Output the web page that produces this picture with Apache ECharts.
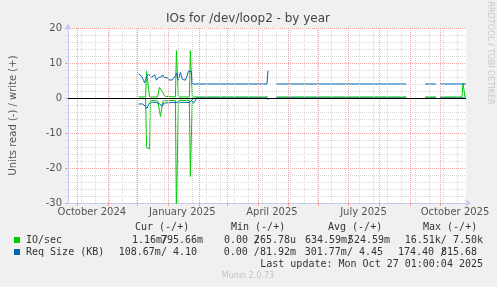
<!DOCTYPE html>
<html><head><meta charset="utf-8">
<script src="https://cdn.jsdelivr.net/npm/echarts@6/dist/echarts.min.js"></script>
<style>html,body{margin:0;padding:0;background:#f0f0f0}#c{width:497px;height:287px}</style>
</head><body><div id="c"></div>
<script>
// ---- data ----
const timeStart = '2024-09-22T01:00:00Z';
const timeEnd = '2025-10-27T01:00:00Z';
const xLabelDates = ['2024-10-16','2025-01-15','2025-04-15','2025-07-16','2025-10-16'];
const xLabelTexts = ['October 2024','January 2025','April 2025','July 2025','October 2025'];
const monthStarts = ['2024-10-01','2024-11-01','2024-12-01','2025-01-01','2025-02-01','2025-03-01','2025-04-01','2025-05-01','2025-06-01','2025-07-01','2025-08-01','2025-09-01','2025-10-01'];
const yTickLabels = [-30,-20,-10,0,10,20];

// IO/sec write (+)
const ioWrite = [['2024-12-02',0.3],['2024-12-09',0.3],['2024-12-10',7.6],['2024-12-11',7.6],['2024-12-12',7.6],['2024-12-13',0.3],
 ['2024-12-21',0.3],['2024-12-22',0.8],['2024-12-23',3.0],['2024-12-24',3.3],['2024-12-25',2.6],['2024-12-26',1.8],['2024-12-27',1.2],['2024-12-28',0.5],['2024-12-29',0.3],
 ['2025-01-08',0.3],['2025-01-09',13.5],['2025-01-10',13.5],['2025-01-11',0.3],['2025-01-22',0.3],['2025-01-23',13.5],['2025-01-24',13.5],['2025-01-25',0.3],
 ['2025-04-11',0.3],['2025-04-12',null],['2025-04-19',0.3],['2025-08-28',0.3],['2025-08-29',null],['2025-09-16',0.3],['2025-09-27',0.3],['2025-09-28',null],
 ['2025-10-01',0.3],['2025-10-23',0.3],['2025-10-24',4.3],['2025-10-25',4.3],['2025-10-26',0.3],['2025-10-27',0.3]];
// IO/sec read (-)
const ioRead = [['2024-12-02',-0.1],['2024-12-09',-0.1],['2024-12-10',-14.2],['2024-12-11',-14.3],['2024-12-12',-14.4],['2024-12-13',-14.5],['2024-12-14',-0.7],
 ['2024-12-21',-0.8],['2024-12-22',-2.0],['2024-12-23',-3.6],['2024-12-24',-5.3],['2024-12-25',-5.1],['2024-12-26',-1.5],['2024-12-27',-0.8],
 ['2025-01-08',-0.7],['2025-01-09',-34],['2025-01-10',-34],['2025-01-11',-0.7],['2025-01-22',-0.7],['2025-01-23',-22.4],['2025-01-24',-22.4],['2025-01-25',-0.1],
 ['2025-04-11',-0.1],['2025-04-12',null],['2025-04-19',-0.1],['2025-08-28',-0.1],['2025-08-29',null],['2025-09-16',-0.1],['2025-09-27',-0.1],['2025-09-28',null],
 ['2025-10-01',-0.1],['2025-10-27',-0.1]];
// Req Size (KB) write (+)
const reqWrite = [['2024-12-02',6.9],['2024-12-03',6.8],['2024-12-04',6.5],['2024-12-05',6.2],['2024-12-06',5.8],['2024-12-07',5.0],['2024-12-08',4.3],
 ['2024-12-09',5.2],['2024-12-10',6.2],['2024-12-11',6.5],['2024-12-12',6.8],['2024-12-13',7.1],['2024-12-14',7.0],['2024-12-15',5.9],['2024-12-16',5.4],
 ['2024-12-17',5.8],['2024-12-18',6.6],['2024-12-19',5.8],['2024-12-20',5.1],['2024-12-21',5.5],['2024-12-22',5.9],['2024-12-23',5.5],['2024-12-24',5.6],
 ['2024-12-25',6.0],['2024-12-26',6.6],['2024-12-27',6.4],['2024-12-28',5.8],['2024-12-29',5.6],['2024-12-30',6.0],['2024-12-31',5.8],['2025-01-01',5.3],
 ['2025-01-02',5.1],['2025-01-03',5.2],['2025-01-04',5.1],['2025-01-05',5.2],['2025-01-06',5.2],['2025-01-07',5.6],['2025-01-08',6.4],['2025-01-09',7.1],
 ['2025-01-10',5.8],['2025-01-11',5.2],['2025-01-12',6.2],['2025-01-13',7.3],['2025-01-14',6.3],['2025-01-15',5.3],['2025-01-16',5.2],['2025-01-17',5.2],
 ['2025-01-18',5.1],['2025-01-19',5.3],['2025-01-20',6.6],['2025-01-21',7.6],['2025-01-24',7.6],['2025-01-25',4.0],
 ['2025-04-10',4.0],['2025-04-11',7.8],['2025-04-12',null],['2025-04-19',4.0],['2025-08-28',4.0],['2025-08-29',null],['2025-09-16',4.0],['2025-09-27',4.0],['2025-09-28',null],
 ['2025-10-01',4.0],['2025-10-27',4.0]];
// Req Size (KB) read (-)
const reqRead = [['2024-12-02',-1.7],['2024-12-06',-1.7],['2024-12-07',-1.8],['2024-12-08',-2.0],['2024-12-09',-2.4],['2024-12-10',-3.0],['2024-12-11',-3.1],
 ['2024-12-12',-2.0],['2024-12-13',-1.4],['2024-12-14',-1.3],['2024-12-16',-1.2],['2024-12-17',-1.4],['2024-12-18',-1.3],['2024-12-20',-1.3],['2024-12-21',-1.4],
 ['2024-12-22',-1.5],['2024-12-23',-1.7],['2024-12-24',-1.9],['2024-12-25',-2.2],['2024-12-26',-2.3],['2024-12-27',-1.5],['2024-12-28',-1.3],['2024-12-29',-1.7],
 ['2024-12-30',-1.4],['2024-12-31',-1.2],['2025-01-05',-1.3],['2025-01-06',-1.2],['2025-01-12',-1.2],['2025-01-13',-1.4],['2025-01-14',-1.2],['2025-01-22',-1.3],
 ['2025-01-23',-1.6],['2025-01-24',-1.2],['2025-01-25',-0.5],['2025-01-26',-1.5],['2025-01-27',-1.9],['2025-01-28',-0.8],['2025-01-29',0],
 ['2025-02-23',0],['2025-02-24',-0.4],['2025-02-25',0],['2025-04-10',0],['2025-04-11',-0.5],['2025-04-12',null],
 ['2025-04-19',0],['2025-05-11',0],['2025-05-12',-0.4],['2025-05-13',0],['2025-06-02',0],['2025-06-03',-0.4],['2025-06-04',0],['2025-06-07',0],['2025-06-08',-0.4],['2025-06-09',0],
 ['2025-06-16',0],['2025-06-17',-0.4],['2025-06-18',0],['2025-06-30',0],['2025-07-01',-0.4],['2025-07-02',0],['2025-07-05',0],['2025-07-06',-0.4],['2025-07-07',0],
 ['2025-07-23',0],['2025-07-24',-0.4],['2025-07-25',0],['2025-08-28',0],['2025-08-29',null],['2025-09-16',0],['2025-09-27',0],['2025-09-28',null],
 ['2025-10-01',0],['2025-10-02',0],['2025-10-03',-0.4],['2025-10-04',0],['2025-10-26',0],['2025-10-27',-0.4]];

// ---- build ----
const T = s => new Date(s.length <= 10 ? s + 'T00:00:00Z' : s).getTime();
const DAY = 86400000;
const conv = arr => arr.map(p => [T(p[0]), p[1] === null ? '-' : p[1]]);
const tMin = T(timeStart), tMax = T(timeEnd);
const minorDates = [];
for (let t = T('2024-10-05') + 3600000; t < tMax; t += 14 * DAY) minorDates.push(t);

const GREEN = '#00cc00', BLUE = '#0066b3';
const RED_GRID = '#f2a0a0', GRAY_GRID = '#dadada';
const AX = '#c8c8f0';

const chart = echarts.init(document.getElementById('c'), null, {renderer: 'canvas'});
const lineS = (name, data, color, z) => ({
  name, type: 'line', data: conv(data), showSymbol: false, symbol: 'none', connectNulls: false,
  lineStyle: {color, width: 1}, itemStyle: {color}, z, clip: true, animation: false
});
const mono = 'DejaVu Sans Mono';
const txt = (text, x, y, align, extra) => ({type: 'text', silent: true, style: Object.assign({text, x, y, textAlign: align || 'left', textVerticalAlign: 'middle', font: '10px "' + mono + '"', fill: '#333'}, extra || {})});

chart.setOption({
  animation: false,
  backgroundColor: '#f0f0f0',
  grid: {left: 66, top: 28, width: 400, height: 175, show: true, backgroundColor: '#ffffff', borderWidth: 0},
  xAxis: {
    type: 'value', min: tMin, max: tMax, scale: true,
    axisLine: {onZero: false, lineStyle: {color: AX, width: 1}, symbol: ['none', 'arrow'], symbolSize: [6, 6], symbolOffset: [0, 5]},
    axisTick: {show: true, customValues: monthStarts.map(T), length: 3, lineStyle: {color: RED_GRID}},
    axisLabel: {customValues: xLabelDates.map(T), margin: 4, fontFamily: 'DejaVu Sans', fontSize: 10, color: '#555',
      formatter: v => { let best = 0; xLabelDates.forEach((d, i) => { if (Math.abs(T(d) - v) < Math.abs(T(xLabelDates[best]) - v)) best = i; }); return xLabelTexts[best]; }},
    splitLine: {show: false}
  },
  yAxis: {
    type: 'value', min: yTickLabels[0], max: yTickLabels[yTickLabels.length - 1], interval: 10,
    name: 'Units read (-) / write (+)', nameLocation: 'middle', nameGap: 50, nameRotate: 90,
    nameTextStyle: {fontFamily: 'DejaVu Sans', fontSize: 10, color: '#555'},
    axisLine: {show: true, lineStyle: {color: AX, width: 1}, symbol: ['none', 'arrow'], symbolSize: [6, 6], symbolOffset: [0, 4]},
    axisTick: {show: true, length: 3, lineStyle: {color: RED_GRID}},
    minorTick: {show: true, splitNumber: 5, length: 2, lineStyle: {color: GRAY_GRID}},
    axisLabel: {margin: 6, fontFamily: 'DejaVu Sans', fontSize: 10, color: '#555'},
    splitLine: {show: true, lineStyle: {color: RED_GRID, type: [1, 1], width: 1}},
    minorSplitLine: {show: true, lineStyle: {color: GRAY_GRID, type: [1, 1], width: 1}}
  },
  series: [
    {type: 'line', data: [], z: 1, silent: true, markLine: {silent: true, symbol: 'none', animation: false, label: {show: false},
      data: minorDates.map(t => ({xAxis: t, lineStyle: {color: GRAY_GRID, type: [1, 1], width: 1}}))
        .concat(monthStarts.map(d => ({xAxis: T(d), lineStyle: {color: RED_GRID, type: [1, 1], width: 1}})))}},
    lineS('IO/sec read', ioRead, GREEN, 3),
    lineS('Req Size read', reqRead, BLUE, 4),
    lineS('IO/sec write', ioWrite, GREEN, 3),
    lineS('Req Size write', reqWrite, BLUE, 4),
    {type: 'line', data: [], z: 6, silent: true, markLine: {silent: true, symbol: 'none', animation: false, label: {show: false},
      data: [{yAxis: 0, lineStyle: {color: '#000000', type: 'solid', width: 1}}]}}
  ],
  graphic: [
    {type: 'text', silent: true, style: {text: 'IOs for /dev/loop2 - by year', x: 248, y: 19, textAlign: 'center', textVerticalAlign: 'middle', font: '12px "DejaVu Sans"', fill: '#444'}},
    {type: 'text', silent: true, rotation: -Math.PI / 2, x: 490, y: 53, style: {text: 'RRDTOOL / TOBI OETIKER', x: 0, y: 0, textAlign: 'center', textVerticalAlign: 'middle', font: '8px "DejaVu Sans"', fill: '#c8c8c8'}},
    txt('Cur (-/+)', 135, 227), txt('Min (-/+)', 231, 227), txt('Avg (-/+)', 328, 227), txt('Max (-/+)', 423, 227),
    {type: 'rect', silent: true, shape: {x: 14, y: 237, width: 6, height: 6}, style: {fill: GREEN}},
    {type: 'rect', silent: true, shape: {x: 14, y: 249, width: 6, height: 6}, style: {fill: BLUE}},
    txt('IO/sec', 26, 240), txt('Req Size (KB)', 26, 252),
    txt('1.16m/', 132, 240), txt('795.66m', 203, 240, 'right'),
    txt('0.00 /', 224, 240), txt('265.78u', 296, 240, 'right'),
    txt('634.59m/', 305, 240), txt('524.59m', 390, 240, 'right'),
    txt('16.51k/ 7.50k', 483, 240, 'right'),
    txt('108.67m/ 4.10', 197, 252, 'right'),
    txt('0.00 /81.92m', 296, 252, 'right'),
    txt('301.77m/ 4.45', 383, 252, 'right'),
    txt('174.40 /', 398, 252), txt('815.68', 477, 252, 'right'),
    txt('Last update: Mon Oct 27 01:00:04 2025', 483, 264, 'right'),
    {type: 'text', silent: true, style: {text: 'Munin 2.0.73', x: 248, y: 276, textAlign: 'center', textVerticalAlign: 'middle', font: '8px "DejaVu Sans"', fill: '#c4c4c4'}}
  ]
});
</script></body></html>
